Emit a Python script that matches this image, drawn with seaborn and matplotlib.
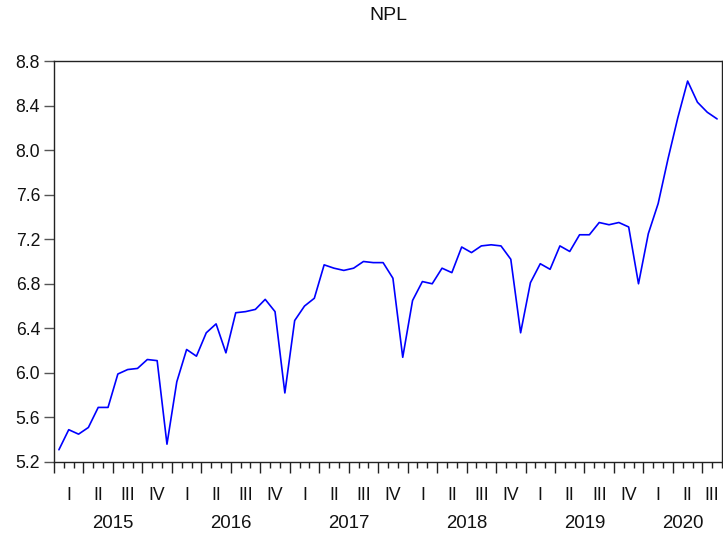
import numpy as np
import pandas as pd
import matplotlib
matplotlib.use("Agg")
import matplotlib.pyplot as plt
import matplotlib.transforms as mtransforms
import seaborn as sns

# Monthly NPL ratio, Jan 2015 - Aug 2020
npl = [5.31, 5.49, 5.45, 5.51, 5.69, 5.69, 5.99, 6.03, 6.04, 6.12, 6.11, 5.36,
       5.92, 6.21, 6.15, 6.36, 6.44, 6.18, 6.54, 6.55, 6.57, 6.66, 6.55, 5.82,
       6.47, 6.60, 6.67, 6.97, 6.94, 6.92, 6.94, 7.00, 6.99, 6.99, 6.85, 6.14,
       6.65, 6.82, 6.80, 6.94, 6.90, 7.13, 7.08, 7.14, 7.15, 7.14, 7.02, 6.36,
       6.81, 6.98, 6.93, 7.14, 7.09, 7.24, 7.24, 7.35, 7.33, 7.35, 7.31, 6.80,
       7.25, 7.52, 7.92, 8.29, 8.62, 8.43, 8.34, 8.28]
years = ["2015", "2016", "2017", "2018", "2019", "2020"]
quarters = ["I", "II", "III", "IV"]
y_ticks = [5.2, 5.6, 6.0, 6.4, 6.8, 7.2, 7.6, 8.0, 8.4, 8.8]


def main():
    sns.set_theme(style="white")
    plt.rcParams["font.family"] = ["Liberation Sans", "DejaVu Sans"]

    df = pd.DataFrame({"t": np.arange(len(npl)), "npl": npl})
    n = len(df)

    fig = plt.figure(figsize=(7.23, 5.33), dpi=100)
    ax = fig.add_axes([54 / 723, 71 / 533, 668 / 723, 401 / 533])

    sns.lineplot(data=df, x="t", y="npl", color="#0000ff", linewidth=1.2, ax=ax)

    ax.set_xlim(-0.5, n - 0.5)
    ax.set_ylim(5.2, 8.8)
    ax.set_yticks(y_ticks)
    ax.set_yticklabels([f"{v:.1f}" for v in y_ticks], fontsize=12.7, color="#111111")
    ax.tick_params(axis="y", direction="out", length=7, width=1, color="#555555",
                   pad=3, left=True)

    # month ticks (minor) and quarter ticks (major), no tick labels
    ax.set_xticks(np.arange(0, n + 1, 3) - 0.5)
    ax.set_xticks(np.arange(0, n + 1) - 0.5, minor=True)
    ax.set_xticklabels([])
    ax.tick_params(axis="x", which="major", direction="out", length=8, width=1,
                   color="#222222", bottom=True)
    ax.tick_params(axis="x", which="minor", direction="out", length=4.5, width=1,
                   color="#222222", bottom=True)

    ax.set_xlabel("")
    ax.set_ylabel("")
    for s in ax.spines.values():
        s.set_color("#222222")
        s.set_linewidth(1.0)

    # quarter and year labels under the axis
    trans = mtransforms.blended_transform_factory(ax.transData, ax.transAxes)
    for q_start in range(0, n, 3):
        q_end = min(q_start + 2, n - 1)
        ax.text((q_start + q_end) / 2, -34 / 401, quarters[(q_start // 3) % 4],
                transform=trans, ha="center", va="center", fontsize=12.7,
                color="#111111", clip_on=False)
    for k, yr in enumerate(years):
        y_start = k * 12
        y_end = min(y_start + 11, n - 1)
        ax.text((y_start + y_end) / 2, -62 / 401, yr, transform=trans,
                ha="center", va="center", fontsize=13.4, color="#111111")

    fig.text(388 / 723, 1 - 15 / 533, "NPL", ha="center", va="center",
             fontsize=14, color="#111111")

    fig.savefig("out.png", dpi=100)


if __name__ == "__main__":
    main()
